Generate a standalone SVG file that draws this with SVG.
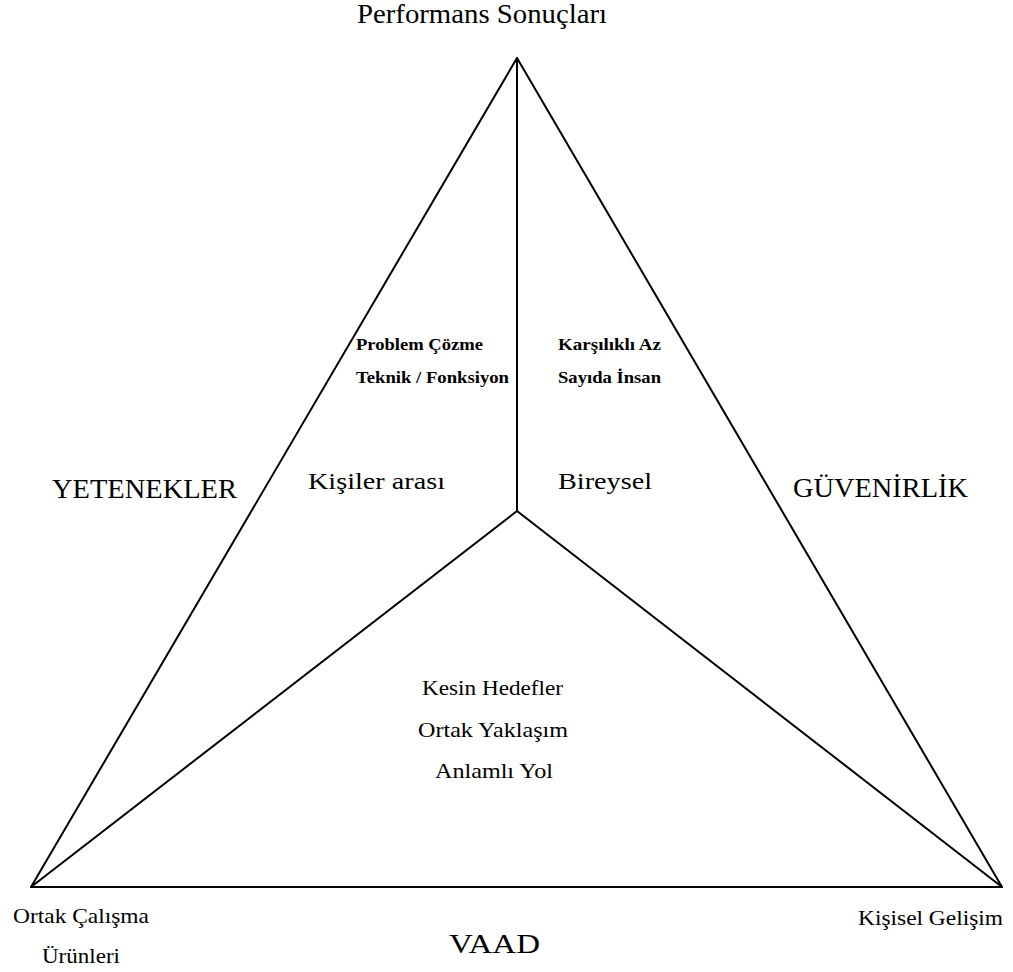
<svg xmlns="http://www.w3.org/2000/svg" width="1013" height="972" viewBox="0 0 1013 972">
<style>
.t{font-family:"Liberation Serif","Times New Roman",serif;fill:#000;text-anchor:middle}
.big{font-size:27px}
.mid{font-size:23px}
.sm{font-size:21px}
.b{font-size:17px;font-weight:bold}
.ln{stroke:#000;stroke-width:2;fill:none;stroke-linecap:round;stroke-linejoin:round}
</style>
<rect width="1013" height="972" fill="#fff"/>
<g id="connectors">
<polygon class="ln" points="517,58 31,887 1002,887"/>
<line class="ln" x1="517" y1="58" x2="517" y2="511"/>
<line class="ln" x1="517" y1="511" x2="31" y2="887"/>
<line class="ln" x1="517" y1="511" x2="1002" y2="887"/>
</g>
<g id="top"><text class="t big" x="482" y="23" textLength="250" lengthAdjust="spacingAndGlyphs">Performans Sonuçları</text></g>
<g id="yetenekler"><text class="t big" x="144.5" y="498" textLength="185" lengthAdjust="spacingAndGlyphs">YETENEKLER</text></g>
<g id="guvenirlik"><text class="t big" x="880.5" y="497" textLength="175" lengthAdjust="spacingAndGlyphs">GÜVENİRLİK</text></g>
<g id="vaad"><text class="t big" x="494.5" y="953" textLength="91" lengthAdjust="spacingAndGlyphs">VAAD</text></g>
<g id="kisiler"><text class="t mid" x="376.5" y="489" textLength="137" lengthAdjust="spacingAndGlyphs">Kişiler arası</text></g>
<g id="bireysel"><text class="t mid" x="605" y="489" textLength="94" lengthAdjust="spacingAndGlyphs">Bireysel</text></g>
<g id="problem">
<text class="t b" x="419.5" y="350" textLength="127" lengthAdjust="spacingAndGlyphs">Problem Çözme</text>
<text class="t b" x="432.5" y="383" textLength="153" lengthAdjust="spacingAndGlyphs">Teknik / Fonksiyon</text>
</g>
<g id="karsilikli">
<text class="t b" x="609.5" y="350" textLength="103" lengthAdjust="spacingAndGlyphs">Karşılıklı Az</text>
<text class="t b" x="609.5" y="383" textLength="103" lengthAdjust="spacingAndGlyphs">Sayıda İnsan</text>
</g>
<g id="center">
<text class="t sm" x="492.5" y="695" textLength="141" lengthAdjust="spacingAndGlyphs">Kesin Hedefler</text>
<text class="t sm" x="493" y="737" textLength="150" lengthAdjust="spacingAndGlyphs">Ortak Yaklaşım</text>
<text class="t sm" x="494" y="778" textLength="118" lengthAdjust="spacingAndGlyphs">Anlamlı Yol</text>
</g>
<g id="ortak">
<text class="t sm" x="81" y="923" textLength="136" lengthAdjust="spacingAndGlyphs">Ortak Çalışma</text>
<text class="t sm" x="81" y="963" textLength="78" lengthAdjust="spacingAndGlyphs">Ürünleri</text>
</g>
<g id="kisisel"><text class="t sm" x="930.5" y="925" textLength="145" lengthAdjust="spacingAndGlyphs">Kişisel Gelişim</text></g>
</svg>
